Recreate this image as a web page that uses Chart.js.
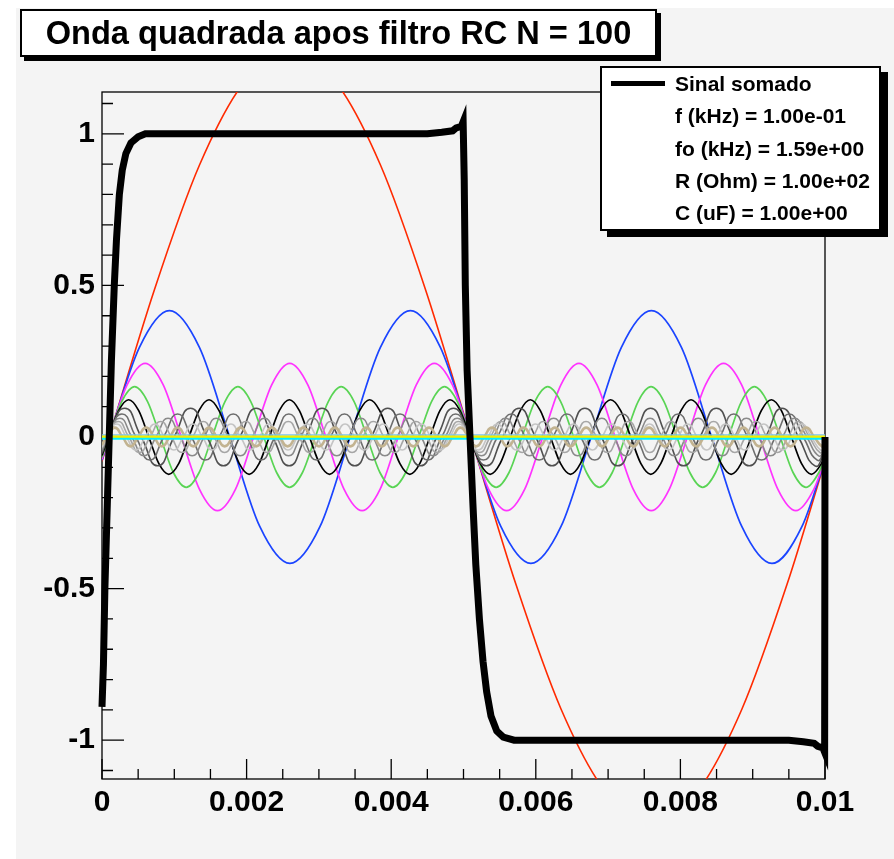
<!DOCTYPE html>
<html>
<head>
<meta charset="utf-8">
<script src="https://cdn.jsdelivr.net/npm/chart.js@4.4.1/dist/chart.umd.min.js"></script>
<style>
  body { margin: 0; background: #fff; }
  #wrap { position: relative; width: 894px; height: 859px; background: #fff; overflow: hidden; }
  #pad { position: absolute; left: 16px; top: 8px; right: 0; bottom: 0; background: #f4f4f4; }
  #chart { position: absolute; left: 0; top: 0; }
  .box { position: absolute; box-sizing: border-box; background: #fff; border: 2px solid #000;
         font-family: 'Liberation Sans', Arial, Helvetica, sans-serif; font-weight: bold; color: #000; }
  #title { left: 20px; top: 9px; width: 637px; height: 48px; box-shadow: 4px 4px 0 #000;
           font-size: 32.6px; line-height: 44px; text-align: center; white-space: nowrap; }
  #legend { left: 600px; top: 66px; width: 281px; height: 165px; box-shadow: 7px 6px 0 #000; font-size: 21px; }
  #legend .row { position: absolute; left: 73px; height: 32px; line-height: 32px; white-space: nowrap; }
  #legend .mark { position: absolute; left: 9px; top: 13px; width: 54px; height: 5px; background: #000; }
</style>
</head>
<body>
<div id="wrap">
  <div id="pad"></div>
  <canvas id="chart" width="894" height="859"></canvas>
  <div id="title" class="box">Onda quadrada apos filtro RC N = 100</div>
  <div id="legend" class="box">
    <div class="mark"></div>
    <div class="row" style="top:0px">Sinal somado</div>
    <div class="row" style="top:32px">f (kHz) = 1.00e-01</div>
    <div class="row" style="top:64.5px">fo (kHz) = 1.59e+00</div>
    <div class="row" style="top:97px">R (Ohm) = 1.00e+02</div>
    <div class="row" style="top:129px">C (uF) = 1.00e+00</div>
  </div>
</div>
<script>
// tempo em ms (o eixo mostra segundos)
const xMajor = [0, 2, 4, 6, 8, 10];
const xMinor = [0.5, 1, 1.5, 2.5, 3, 3.5, 4.5, 5, 5.5, 6.5, 7, 7.5, 8.5, 9, 9.5];
const yMajor = [-1, -0.5, 0, 0.5, 1];
const yMinor = [-1.1, -0.9, -0.8, -0.7, -0.6, -0.4, -0.3, -0.2, -0.1, 0.1, 0.2, 0.3, 0.4, 0.6, 0.7, 0.8, 0.9, 1.1];

// sinal somado (curva preta grossa)
const sumX = [0, 0.02, 0.04, 0.07, 0.1, 0.13, 0.17, 0.2, 0.24, 0.28, 0.33, 0.4, 0.5, 0.6, 0.8, 1.5, 3, 4.5, 4.7, 4.85,
  4.9, 4.97, 4.995, 5.01, 5.025, 5.05, 5.09, 5.13, 5.17, 5.22, 5.27, 5.32, 5.38, 5.46, 5.55, 5.7, 6.5, 8, 9.5, 9.7,
  9.85, 9.9, 9.97, 9.995, 10];
const sumY = [-0.89, -0.75, -0.5, -0.25, 0, 0.25, 0.5, 0.65, 0.8, 0.88, 0.935, 0.97, 0.99, 1, 1, 1, 1, 1, 1.005, 1.01,
  1.02, 1.025, 1.04, 0.85, 0.5, 0.22, 0, -0.22, -0.42, -0.6, -0.74, -0.84, -0.92, -0.97, -0.99, -1, -1, -1, -1, -1.005,
  -1.01, -1.02, -1.025, -1.04, 0];

// harmonico 1 (vermelho)
const h1X = [0, 0.1, 0.725, 1.35, 1.975, 2.6, 3.225, 3.85, 4.475, 5.1, 5.725, 6.35, 6.975, 7.6, 8.225, 8.85, 9.475, 10];
const h1Y = [-0.08, 0, 0.486, 0.898, 1.173, 1.27, 1.173, 0.898, 0.486, 0, -0.486, -0.898, -1.173, -1.27, -1.173, -0.898, -0.486, -0.08];

// harmonico 3 (azul)
const h3X = [0, 0.099, 0.516, 0.932, 1.349, 1.766, 2.182, 2.599, 3.016, 3.432, 3.849, 4.266, 4.682,
  5.099, 5.516, 5.932, 6.349, 6.766, 7.182, 7.599, 8.016, 8.432, 8.849, 9.266, 9.682, 10];
const h3Y = [-0.077,
  0, 0.295, 0.417, 0.295, 0, -0.295, -0.417, -0.295,
  0, 0.295, 0.417, 0.295, 0, -0.295, -0.417, -0.295,
  0, 0.295, 0.417, 0.295, 0, -0.295, -0.417, -0.295,
  -0.077];

// harmonico 5 (magenta)
const h5X = [0, 0.097, 0.347, 0.597, 0.847, 1.097, 1.347, 1.597, 1.847, 2.097, 2.347, 2.597, 2.847, 3.097, 3.347,
  3.597, 3.847, 4.097, 4.347, 4.597, 4.847, 5.097, 5.347, 5.597, 5.847, 6.097, 6.347, 6.597, 6.847, 7.097, 7.347,
  7.597, 7.847, 8.097, 8.347, 8.597, 8.847, 9.097, 9.347, 9.597, 9.847, 10];
const h5Y = [-0.073,
  0, 0.172, 0.243, 0.172, 0, -0.172, -0.243, -0.172,
  0, 0.172, 0.243, 0.172, 0, -0.172, -0.243, -0.172,
  0, 0.172, 0.243, 0.172, 0, -0.172, -0.243, -0.172,
  0, 0.172, 0.243, 0.172, 0, -0.172, -0.243, -0.172,
  0, 0.172, 0.243, 0.172, 0, -0.172, -0.243, -0.172,
  -0.073];

// harmonico 7 (verde)
const h7X = [0, 0.094, 0.273, 0.451, 0.630, 0.808, 0.987, 1.165, 1.344, 1.523, 1.701, 1.880, 2.058, 2.237, 2.415,
  2.594, 2.773, 2.951, 3.130, 3.308, 3.487, 3.665, 3.844, 4.023, 4.201, 4.380, 4.558, 4.737, 4.915,
  5.094, 5.273, 5.451, 5.630, 5.808, 5.987, 6.165, 6.344, 6.523, 6.701, 6.880, 7.058, 7.237, 7.415,
  7.594, 7.773, 7.951, 8.130, 8.308, 8.487, 8.665, 8.844, 9.023, 9.201, 9.380, 9.558, 9.737, 9.915, 10];
const h7Y = [-0.067,
  0, 0.117, 0.166, 0.117, 0, -0.117, -0.166, -0.117,
  0, 0.117, 0.166, 0.117, 0, -0.117, -0.166, -0.117,
  0, 0.117, 0.166, 0.117, 0, -0.117, -0.166, -0.117,
  0, 0.117, 0.166, 0.117, 0, -0.117, -0.166, -0.117,
  0, 0.117, 0.166, 0.117, 0, -0.117, -0.166, -0.117,
  0, 0.117, 0.166, 0.117, 0, -0.117, -0.166, -0.117,
  0, 0.117, 0.166, 0.117, 0, -0.117, -0.166, -0.117,
  -0.067];

// harmonico 9 (preto fino)
const h9X = [0, 0.091, 0.230, 0.369, 0.508, 0.647, 0.785, 0.924, 1.063, 1.202, 1.341, 1.480, 1.619, 1.758, 1.897,
  2.035, 2.174, 2.313, 2.452, 2.591, 2.730, 2.869, 3.008, 3.147, 3.285, 3.424, 3.563, 3.702, 3.841, 3.980, 4.119,
  4.258, 4.397, 4.535, 4.674, 4.813, 4.952,
  5.091, 5.230, 5.369, 5.508, 5.647, 5.785, 5.924, 6.063, 6.202, 6.341, 6.480, 6.619, 6.758, 6.897,
  7.035, 7.174, 7.313, 7.452, 7.591, 7.730, 7.869, 8.008, 8.147, 8.285, 8.424, 8.563, 8.702, 8.841, 8.980, 9.119,
  9.258, 9.397, 9.535, 9.674, 9.813, 9.952, 10];
const h9Y = [-0.061,
  0, 0.087, 0.123, 0.087, 0, -0.087, -0.123, -0.087,
  0, 0.087, 0.123, 0.087, 0, -0.087, -0.123, -0.087,
  0, 0.087, 0.123, 0.087, 0, -0.087, -0.123, -0.087,
  0, 0.087, 0.123, 0.087, 0, -0.087, -0.123, -0.087,
  0, 0.087, 0.123, 0.087, 0, -0.087, -0.123, -0.087,
  0, 0.087, 0.123, 0.087, 0, -0.087, -0.123, -0.087,
  0, 0.087, 0.123, 0.087, 0, -0.087, -0.123, -0.087,
  0, 0.087, 0.123, 0.087, 0, -0.087, -0.123, -0.087,
  0, 0.087, 0.123, 0.087, 0, -0.087, -0.123, -0.087,
  -0.061];

// harmonicos 11..23 (cinzas e bege)
const h11X = [0, 0.088, 0.315, 0.543, 0.770, 0.997, 1.224, 1.452, 1.679, 1.906, 2.133, 2.361, 2.588, 2.815, 3.043,
  3.270, 3.497, 3.724, 3.952, 4.179, 4.406, 4.633, 4.861,
  5.088, 5.315, 5.543, 5.770, 5.997, 6.224, 6.452, 6.679, 6.906, 7.133, 7.361, 7.588, 7.815, 8.043,
  8.270, 8.497, 8.724, 8.952, 9.179, 9.406, 9.633, 9.861, 10];
const h11Y = [-0.054,
  0, 0.095, 0, -0.095, 0, 0.095, 0, -0.095, 0, 0.095, 0, -0.095, 0, 0.095, 0, -0.095,
  0, 0.095, 0, -0.095, 0, 0.095, 0, -0.095, 0, 0.095, 0, -0.095, 0, 0.095, 0, -0.095,
  0, 0.095, 0, -0.095, 0, 0.095, 0, -0.095, 0, 0.095, 0, -0.095,
  -0.054];

const h13X = [0, 0.084, 0.276, 0.469, 0.661, 0.853, 1.046, 1.238, 1.430, 1.622, 1.815, 2.007, 2.199, 2.392, 2.584,
  2.776, 2.969, 3.161, 3.353, 3.546, 3.738, 3.930, 4.122, 4.315, 4.507, 4.699, 4.892,
  5.084, 5.276, 5.469, 5.661, 5.853, 6.046, 6.238, 6.430, 6.622, 6.815, 7.007, 7.199, 7.392, 7.584,
  7.776, 7.969, 8.161, 8.353, 8.546, 8.738, 8.930, 9.122, 9.315, 9.507, 9.699, 9.892, 10];
const h13Y = [-0.048,
  0, 0.076, 0, -0.076, 0, 0.076, 0, -0.076, 0, 0.076, 0, -0.076, 0, 0.076, 0, -0.076,
  0, 0.076, 0, -0.076, 0, 0.076, 0, -0.076, 0, 0.076, 0, -0.076, 0, 0.076, 0, -0.076,
  0, 0.076, 0, -0.076, 0, 0.076, 0, -0.076, 0, 0.076, 0, -0.076, 0, 0.076, 0, -0.076,
  0, 0.076, 0, -0.076,
  -0.048];

const h15X = [0, 0.080, 0.247, 0.413, 0.580, 0.747, 0.913, 1.080, 1.247, 1.413, 1.580, 1.747, 1.913, 2.080, 2.247,
  2.413, 2.580, 2.747, 2.913, 3.080, 3.247, 3.413, 3.580, 3.747, 3.913, 4.080, 4.247, 4.413, 4.580, 4.747, 4.913,
  5.080, 5.247, 5.413, 5.580, 5.747, 5.913, 6.080, 6.247, 6.413, 6.580, 6.747, 6.913, 7.080, 7.247,
  7.413, 7.580, 7.747, 7.913, 8.080, 8.247, 8.413, 8.580, 8.747, 8.913, 9.080, 9.247, 9.413, 9.580, 9.747, 9.913, 10];
const h15Y = [-0.042,
  0, 0.062, 0, -0.062, 0, 0.062, 0, -0.062, 0, 0.062, 0, -0.062, 0, 0.062, 0, -0.062,
  0, 0.062, 0, -0.062, 0, 0.062, 0, -0.062, 0, 0.062, 0, -0.062, 0, 0.062, 0, -0.062,
  0, 0.062, 0, -0.062, 0, 0.062, 0, -0.062, 0, 0.062, 0, -0.062, 0, 0.062, 0, -0.062,
  0, 0.062, 0, -0.062, 0, 0.062, 0, -0.062, 0, 0.062, 0, -0.062,
  -0.042];

const h17X = [0, 0.077, 0.224, 0.371, 0.518, 0.665, 0.812, 0.959, 1.106, 1.253, 1.400, 1.548, 1.695, 1.842, 1.989,
  2.136, 2.283, 2.430, 2.577, 2.724, 2.871, 3.018, 3.165, 3.312, 3.459, 3.606, 3.753, 3.900, 4.048, 4.195, 4.342,
  4.489, 4.636, 4.783, 4.930,
  5.077, 5.224, 5.371, 5.518, 5.665, 5.812, 5.959, 6.106, 6.253, 6.400, 6.548, 6.695, 6.842, 6.989,
  7.136, 7.283, 7.430, 7.577, 7.724, 7.871, 8.018, 8.165, 8.312, 8.459, 8.606, 8.753, 8.900, 9.048, 9.195, 9.342,
  9.489, 9.636, 9.783, 9.930, 10];
const h17Y = [-0.037,
  0, 0.051, 0, -0.051, 0, 0.051, 0, -0.051, 0, 0.051, 0, -0.051, 0, 0.051, 0, -0.051,
  0, 0.051, 0, -0.051, 0, 0.051, 0, -0.051, 0, 0.051, 0, -0.051, 0, 0.051, 0, -0.051,
  0, 0.051, 0, -0.051, 0, 0.051, 0, -0.051, 0, 0.051, 0, -0.051, 0, 0.051, 0, -0.051,
  0, 0.051, 0, -0.051, 0, 0.051, 0, -0.051, 0, 0.051, 0, -0.051, 0, 0.051, 0, -0.051,
  0, 0.051, 0, -0.051,
  -0.037];

const h19X = [0, 0.073, 0.205, 0.336, 0.468, 0.599, 0.731, 0.862, 0.994, 1.126, 1.257, 1.389, 1.520, 1.652, 1.783,
  1.915, 2.047, 2.178, 2.310, 2.441, 2.573, 2.705, 2.836, 2.968, 3.099, 3.231, 3.362, 3.494, 3.626, 3.757, 3.889,
  4.020, 4.152, 4.284, 4.415, 4.547, 4.678, 4.810, 4.941,
  5.073, 5.205, 5.336, 5.468, 5.599, 5.731, 5.862, 5.994, 6.126, 6.257, 6.389, 6.520, 6.652, 6.783,
  6.915, 7.047, 7.178, 7.310, 7.441, 7.573, 7.705, 7.836, 7.968, 8.099, 8.231, 8.362, 8.494, 8.626, 8.757, 8.889,
  9.020, 9.152, 9.284, 9.415, 9.547, 9.678, 9.810, 9.941, 10];
const h19Y = [-0.033,
  0, 0.043, 0, -0.043, 0, 0.043, 0, -0.043, 0, 0.043, 0, -0.043, 0, 0.043, 0, -0.043,
  0, 0.043, 0, -0.043, 0, 0.043, 0, -0.043, 0, 0.043, 0, -0.043, 0, 0.043, 0, -0.043,
  0, 0.043, 0, -0.043, 0, 0.043, 0, -0.043, 0, 0.043, 0, -0.043, 0, 0.043, 0, -0.043,
  0, 0.043, 0, -0.043, 0, 0.043, 0, -0.043, 0, 0.043, 0, -0.043, 0, 0.043, 0, -0.043,
  0, 0.043, 0, -0.043, 0, 0.043, 0, -0.043, 0, 0.043, 0, -0.043,
  -0.033];

const h23X = [0, 0.067, 0.176, 0.284, 0.393, 0.502, 0.610, 0.719, 0.828, 0.937, 1.045, 1.154, 1.263, 1.371, 1.480,
  1.589, 1.697, 1.806, 1.915, 2.023, 2.132, 2.241, 2.350, 2.458, 2.567, 2.676, 2.784, 2.893, 3.002, 3.110, 3.219,
  3.328, 3.437, 3.545, 3.654, 3.763, 3.871, 3.980, 4.089, 4.197, 4.306, 4.415, 4.523, 4.632, 4.741, 4.850, 4.958,
  5.067, 5.176, 5.284, 5.393, 5.502, 5.610, 5.719, 5.828, 5.937, 6.045, 6.154, 6.263, 6.371, 6.480,
  6.589, 6.697, 6.806, 6.915, 7.023, 7.132, 7.241, 7.350, 7.458, 7.567, 7.676, 7.784, 7.893, 8.002, 8.110, 8.219,
  8.328, 8.437, 8.545, 8.654, 8.763, 8.871, 8.980, 9.089, 9.197, 9.306, 9.415, 9.523, 9.632, 9.741, 9.850, 9.958, 10];
const h23Y = [-0.026,
  0, 0.031, 0, -0.031, 0, 0.031, 0, -0.031, 0, 0.031, 0, -0.031, 0, 0.031, 0, -0.031,
  0, 0.031, 0, -0.031, 0, 0.031, 0, -0.031, 0, 0.031, 0, -0.031, 0, 0.031, 0, -0.031,
  0, 0.031, 0, -0.031, 0, 0.031, 0, -0.031, 0, 0.031, 0, -0.031, 0, 0.031, 0, -0.031,
  0, 0.031, 0, -0.031, 0, 0.031, 0, -0.031, 0, 0.031, 0, -0.031, 0, 0.031, 0, -0.031,
  0, 0.031, 0, -0.031, 0, 0.031, 0, -0.031, 0, 0.031, 0, -0.031, 0, 0.031, 0, -0.031,
  0, 0.031, 0, -0.031, 0, 0.031, 0, -0.031, 0, 0.031, 0, -0.031,
  -0.026];

// harmonicos altos: praticamente retos em zero
const zeroX = [0, 10];
const zeroHiY = [0.007, 0.007];
const zeroMidY = [0.001, 0.001];
const zeroLoY = [-0.006, -0.006];

function pts(xs, ys) {
  return xs.map((x, i) => ({ x: x, y: ys[i] }));
}

function harm(xs, ys, color, width, smooth) {
  const ds = { data: pts(xs, ys), borderColor: color, borderWidth: width, pointRadius: 0, fill: false };
  if (smooth === 'mono') {
    ds.cubicInterpolationMode = 'monotone';
  } else {
    ds.tension = 0.55;
  }
  return ds;
}

// o primeiro dataset fica por cima
const datasets = [
  { label: 'Sinal somado', data: pts(sumX, sumY), borderColor: '#000', borderWidth: 7, pointRadius: 0,
    tension: 0, fill: false, clip: false },
  { data: pts(zeroX, zeroLoY), borderColor: '#00f0ff', borderWidth: 2, pointRadius: 0, tension: 0 },
  { data: pts(zeroX, zeroMidY), borderColor: '#f0f000', borderWidth: 2.5, pointRadius: 0, tension: 0 },
  { data: pts(zeroX, zeroHiY), borderColor: '#7cc4ee', borderWidth: 1.5, pointRadius: 0, tension: 0 },
  harm(h23X, h23Y, '#c2b391', 2.6),
  harm(h19X, h19Y, '#c4c4c4', 1.6),
  harm(h17X, h17Y, '#a6a6a6', 1.6),
  harm(h15X, h15Y, '#8a8a8a', 1.6),
  harm(h13X, h13Y, '#6e6e6e', 1.6),
  harm(h11X, h11Y, '#505050', 1.6),
  harm(h9X, h9Y, '#000000', 1.7, 'mono'),
  harm(h7X, h7Y, '#59d454', 1.7, 'mono'),
  harm(h5X, h5Y, '#ff33ff', 1.7, 'mono'),
  harm(h3X, h3Y, '#1a44ff', 1.7, 'mono'),
  harm(h1X, h1Y, '#ff2a00', 1.6, 'mono')
];

// eixos no estilo ROOT: moldura e marcas para dentro
const rootAxes = {
  id: 'rootAxes',
  beforeDatasetsDraw(chart) {
    const { ctx, chartArea: a } = chart;
    const x = chart.scales.x, y = chart.scales.y;
    ctx.save();
    ctx.strokeStyle = '#000';
    ctx.lineWidth = 1.3;
    ctx.strokeRect(a.left, a.top, a.right - a.left, a.bottom - a.top);
    ctx.beginPath();
    yMajor.forEach(v => { const p = y.getPixelForValue(v); ctx.moveTo(a.left, p); ctx.lineTo(a.left + 22, p); });
    yMinor.forEach(v => { const p = y.getPixelForValue(v); ctx.moveTo(a.left, p); ctx.lineTo(a.left + 11, p); });
    xMajor.forEach(v => { const p = x.getPixelForValue(v); ctx.moveTo(p, a.bottom); ctx.lineTo(p, a.bottom - 20); });
    xMinor.forEach(v => { const p = x.getPixelForValue(v); ctx.moveTo(p, a.bottom); ctx.lineTo(p, a.bottom - 10); });
    ctx.stroke();
    ctx.restore();
  }
};

const tickFont = { family: "'Liberation Sans', Arial, Helvetica, sans-serif", size: 30, weight: 'bold' };

new Chart(document.getElementById('chart').getContext('2d'), {
  type: 'line',
  data: { datasets: datasets },
  options: {
    responsive: false,
    animation: false,
    devicePixelRatio: 1,
    events: [],
    layout: { padding: { top: 92, right: 69, bottom: 0, left: 0 } },
    plugins: { legend: { display: false }, tooltip: { enabled: false }, title: { display: false } },
    scales: {
      x: {
        type: 'linear', min: 0, max: 10,
        grid: { display: false, drawTicks: false },
        border: { display: false },
        afterFit: s => { s.height = 80; },
        afterBuildTicks: s => { s.ticks = xMajor.map(v => ({ value: v })); },
        ticks: { font: tickFont, color: '#000', padding: 6, maxRotation: 0, autoSkip: false,
                 callback: v => v === 0 ? '0' : String(v / 1000) }
      },
      y: {
        type: 'linear', min: -1.128, max: 1.138,
        grid: { display: false, drawTicks: false },
        border: { display: false },
        afterFit: s => { s.width = 102; },
        afterBuildTicks: s => { s.ticks = yMajor.map(v => ({ value: v })); },
        ticks: { font: tickFont, color: '#000', padding: 7, callback: v => String(v) }
      }
    }
  },
  plugins: [rootAxes]
});
</script>
</body>
</html>
